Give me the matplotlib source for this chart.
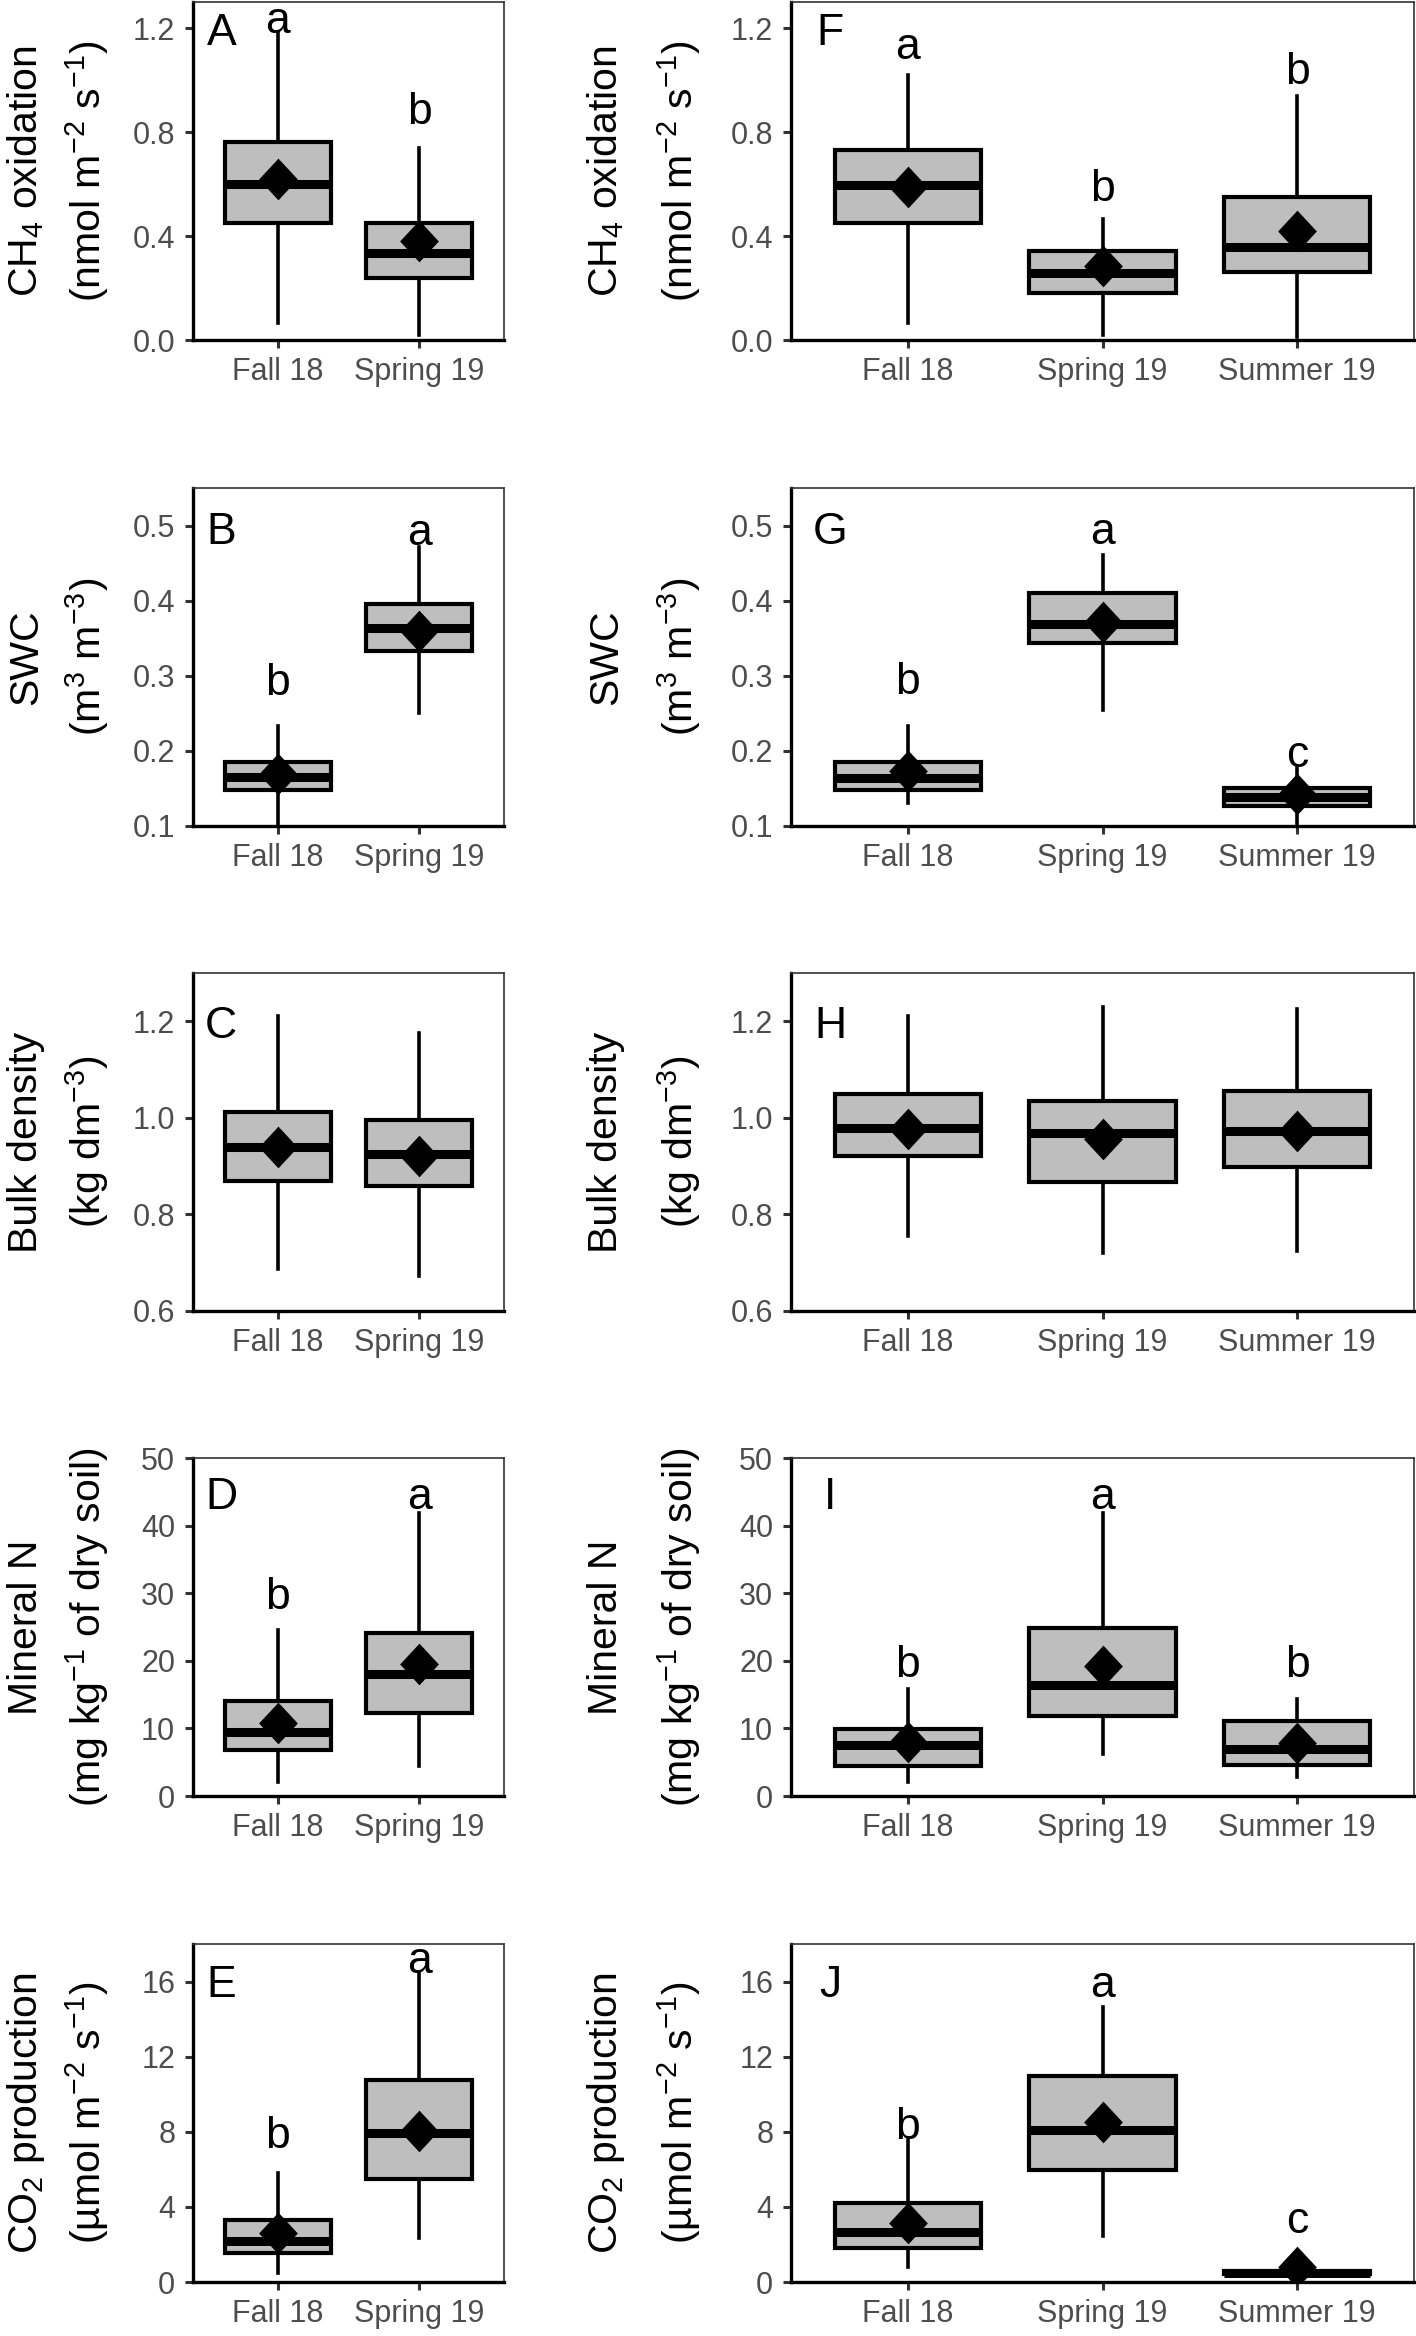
import matplotlib
matplotlib.use("Agg")
import matplotlib.pyplot as plt

plt.rcParams['font.family'] = ['Liberation Sans', 'DejaVu Sans']
plt.rcParams['mathtext.fontset'] = 'custom'
plt.rcParams['mathtext.rm'] = 'Liberation Sans'
plt.rcParams['mathtext.it'] = 'Liberation Sans:italic'
plt.rcParams['mathtext.bf'] = 'Liberation Sans:bold'

seasons_2 = ["Fall 18", "Spring 19"]
seasons_3 = ["Fall 18", "Spring 19", "Summer 19"]

# each box: whisker low, Q1, median, Q3, whisker high
ch4_2 = [[0.065, 0.45, 0.60, 0.76, 1.18], [0.02, 0.24, 0.335, 0.45, 0.74]]
ch4_2_mean = [0.62, 0.38]
ch4_2_letters = ["a", "b"]
ch4_2_letter_y = [1.182, 0.830]

ch4_3 = [[0.065, 0.45, 0.595, 0.73, 1.02], [0.02, 0.18, 0.257, 0.344, 0.467],
         [0.01, 0.26, 0.357, 0.55, 0.94]]
ch4_3_mean = [0.59, 0.283, 0.42]
ch4_3_letters = ["a", "b", "b"]
ch4_3_letter_y = [1.082, 0.535, 0.983]

swc_2 = [[0.1, 0.148, 0.165, 0.185, 0.233], [0.25, 0.333, 0.363, 0.396, 0.471]]
swc_2_mean = [0.169, 0.36]
swc_2_letters = ["b", "a"]
swc_2_letter_y = [0.275, 0.474]

swc_3 = [[0.131, 0.148, 0.164, 0.185, 0.233], [0.254, 0.343, 0.369, 0.41, 0.461],
         [0.1, 0.126, 0.139, 0.151, 0.177]]
swc_3_mean = [0.173, 0.372, 0.142]
swc_3_letters = ["b", "a", "c"]
swc_3_letter_y = [0.276, 0.476, 0.179]

bd_2 = [[0.688, 0.869, 0.939, 1.013, 1.21], [0.672, 0.858, 0.926, 0.995, 1.176]]
bd_2_mean = [0.939, 0.92]

bd_3 = [[0.755, 0.92, 0.98, 1.049, 1.21], [0.72, 0.867, 0.968, 1.035, 1.23],
        [0.724, 0.898, 0.972, 1.056, 1.226]]
bd_3_mean = [0.977, 0.956, 0.972]

minn_2 = [[2.1, 6.8, 9.5, 14.1, 24.5], [4.4, 12.3, 18.1, 24.1, 41.8]]
minn_2_mean = [10.8, 19.5]
minn_2_letters = ["b", "a"]
minn_2_letter_y = [27.6, 42.5]

minn_3 = [[2.1, 4.4, 7.6, 9.85, 15.8], [6.2, 11.8, 16.4, 24.8, 41.8],
          [2.8, 4.6, 7.0, 11.1, 14.4]]
minn_3_mean = [8.0, 19.2, 7.9]
minn_3_letters = ["b", "a", "b"]
minn_3_letter_y = [17.6, 42.5, 17.6]

co2_2 = [[0.46, 1.53, 2.2, 3.3, 5.78], [2.32, 5.46, 7.94, 10.74, 16.5]]
co2_2_mean = [2.62, 8.03]
co2_2_letters = ["b", "a"]
co2_2_letter_y = [7.14, 16.45]

co2_3 = [[0.81, 1.79, 2.68, 4.22, 7.55], [2.45, 5.99, 8.09, 10.97, 14.64],
         [0.3, 0.42, 0.5, 0.58, 0.7]]
co2_3_mean = [3.12, 8.53, 0.8]
co2_3_letters = ["b", "a", "c"]
co2_3_letter_y = [7.64, 15.18, 2.6]

# y axis per row
row_titles = ["CH$_4$ oxidation", "SWC", "Bulk density", "Mineral N", "CO$_2$ production"]
row_units = ["(nmol m$^{-2}$ s$^{-1}$)", "(m$^3$ m$^{-3}$)", "(kg dm$^{-3}$)",
             "(mg kg$^{-1}$ of dry soil)", "(µmol m$^{-2}$ s$^{-1}$)"]
row_ylims = [(0, 1.3), (0.1, 0.55), (0.6, 1.3), (0, 50), (0, 18)]
row_yticks = [[0.0, 0.4, 0.8, 1.2], [0.1, 0.2, 0.3, 0.4, 0.5], [0.6, 0.8, 1.0, 1.2],
              [0, 10, 20, 30, 40, 50], [0, 4, 8, 12, 16]]
row_fmt = ["{:.1f}", "{:.1f}", "{:.1f}", "{:.0f}", "{:.0f}"]
tags_left = ["A", "B", "C", "D", "E"]
tags_right = ["F", "G", "H", "I", "J"]
tag_y = [1.136, 0.476, 1.166, 42.5, 15.18]

left_panels = [
    (ch4_2, ch4_2_mean, ch4_2_letters, ch4_2_letter_y),
    (swc_2, swc_2_mean, swc_2_letters, swc_2_letter_y),
    (bd_2, bd_2_mean, [], []),
    (minn_2, minn_2_mean, minn_2_letters, minn_2_letter_y),
    (co2_2, co2_2_mean, co2_2_letters, co2_2_letter_y),
]
right_panels = [
    (ch4_3, ch4_3_mean, ch4_3_letters, ch4_3_letter_y),
    (swc_3, swc_3_mean, swc_3_letters, swc_3_letter_y),
    (bd_3, bd_3_mean, [], []),
    (minn_3, minn_3_mean, minn_3_letters, minn_3_letter_y),
    (co2_3, co2_3_mean, co2_3_letters, co2_3_letter_y),
]

W, H = 1416, 2336
fig = plt.figure(figsize=(W / 100, H / 100), dpi=100)

row_top = [2, 488, 973, 1458, 1944]
ax_h = 338
cols = [
    dict(x0=193, w=311, cats=seasons_2, panels=left_panels, tags=tags_left, lab1=37, lab2=101),
    dict(x0=791, w=623, cats=seasons_3, panels=right_panels, tags=tags_right, lab1=617, lab2=693),
]

diamond = [(0, 1), (0.93, 0), (0, -1), (-0.93, 0), (0, 1)]

for col in cols:
    for r in range(5):
        stats, means, letters, letter_y = col["panels"][r]
        top = row_top[r]
        ax = fig.add_axes([col["x0"] / W, 1 - (top + ax_h) / H, col["w"] / W, ax_h / H])
        n = len(col["cats"])
        pos = list(range(1, n + 1))
        bxp_stats = []
        for s, m in zip(stats, means):
            bxp_stats.append(dict(whislo=s[0], q1=s[1], med=s[2], q3=s[3], whishi=s[4],
                                  mean=m, fliers=[]))
        ax.bxp(bxp_stats, positions=pos, widths=0.75, patch_artist=True,
               showcaps=False, showfliers=False, showmeans=True,
               boxprops=dict(facecolor='#BEBEBE', edgecolor='black', linewidth=3.0),
               medianprops=dict(color='black', linewidth=6.5, solid_capstyle='butt'),
               whiskerprops=dict(color='black', linewidth=2.6),
               meanprops=dict(marker=diamond, markerfacecolor='black',
                              markeredgecolor='black', markeredgewidth=0, markersize=30))
        for p, lt, ly in zip(pos, letters, letter_y):
            ax.text(p, ly, lt, ha='center', va='baseline', fontsize=32, color='black')
        ax.text(0.6, tag_y[r], col["tags"][r], ha='center', va='baseline', fontsize=32)

        ax.set_xlim(0.4, n + 0.6)
        ax.set_ylim(*row_ylims[r])
        ax.set_xticks(pos)
        ax.set_xticklabels(col["cats"])
        ax.set_yticks(row_yticks[r])
        ax.set_yticklabels([row_fmt[r].format(v) for v in row_yticks[r]])
        ax.tick_params(axis='both', labelsize=22, labelcolor='#4D4D4D', color='#333333',
                       length=5.8, width=2.2)
        ax.tick_params(axis='x', pad=6.5)
        ax.tick_params(axis='y', pad=7)
        for side in ['left', 'bottom']:
            ax.spines[side].set_linewidth(2.4)
            ax.spines[side].set_color('black')
        for side in ['top', 'right']:
            ax.spines[side].set_linewidth(1.2)
            ax.spines[side].set_color('#333333')

        yc = 1 - (top + ax_h / 2) / H
        fig.text(col["lab1"] / W, yc, row_titles[r], rotation=90, rotation_mode='anchor',
                 ha='center', va='baseline', fontsize=29.5)
        fig.text(col["lab2"] / W, yc, row_units[r], rotation=90, rotation_mode='anchor',
                 ha='center', va='baseline', fontsize=29.5)

fig.savefig("out.png", dpi=100)
